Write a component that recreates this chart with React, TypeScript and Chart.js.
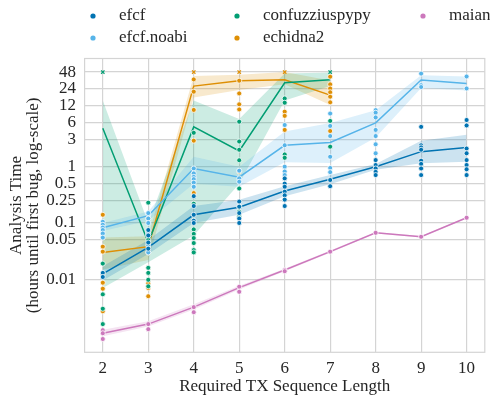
import React, { useEffect, useRef } from "react";
import { Chart, registerables } from "chart.js";

Chart.register(...registerables);

// ---------- data ----------
const xValues = [2, 3, 4, 5, 6, 7, 8, 9, 10];
const yTickValues = [48, 24, 12, 6, 3, 1, 0.5, 0.25, 0.1, 0.05, 0.01];
const TIMEOUT = 48;

// efcf
const efcfMean = [0.0125, 0.037, 0.14, 0.19, 0.37, 0.6, 1.0, 1.85, 2.2];
const efcfLow = [0.0095, 0.028, 0.1, 0.14, 0.3, 0.49, 0.88, 1.15, 1.23];
const efcfHigh = [0.017, 0.05, 0.2, 0.26, 0.45, 0.71, 1.12, 2.9, 3.7];
const efcfRuns = [
  [0.013, 0.011],
  [0.075, 0.06, 0.045, 0.035],
  [0.3, 0.2, 0.14, 0.11, 0.1],
  [0.24, 0.195, 0.15, 0.12, 0.1],
  [0.62, 0.5, 0.44, 0.36, 0.31, 0.26, 0.2],
  [0.58, 0.45],
  [1.31, 1.07, 0.93, 0.81, 0.71],
  [5.1, 2.4, 2.2, 2.0, 1.28, 1.12, 0.93, 0.71],
  [6.75, 5.4, 2.1, 1.73, 1.31, 1.07, 0.9, 0.71],
];
const efcfTimeouts: number[] = [];

// efcf.noabi
const noabiMean = [0.082, 0.135, 0.93, 0.65, 2.4, 2.7, 6.0, 34.6, 30];
const noabiLow = [0.072, 0.11, 0.5, 0.44, 1.2, 1.16, 3.3, 25, 22.5];
const noabiHigh = [0.1, 0.16, 1.5, 1.0, 4.2, 6.0, 10.1, 42, 40];
const noabiRuns = [
  [0.105, 0.093, 0.083, 0.075, 0.065, 0.055],
  [0.15, 0.12, 0.1, 0.065, 0.04, 0.03],
  [0.93, 0.76, 0.66, 0.6, 0.52, 0.44],
  [0.85, 0.62, 0.54],
  [5.5, 2.4, 1.0, 0.82, 0.71],
  [8.8, 5.3, 3.5, 1.5, 0.95, 0.8],
  [10.1, 9.1, 7.5, 4.5, 3.5, 2.5, 1.73],
  [45, 28, 26],
  [40, 24.5],
];
const noabiTimeouts: number[] = [];

// confuzziuspypy
const confuzziusMean = [4.8, 0.045, 5.1, 1.9, 31, 35];
const confuzziusLow = [0.007, 0.02, 0.06, 0.5, 15, 27];
const confuzziusHigh = [15, 0.1, 15, 7, 45, 47];
const confuzziusRuns = [
  [0.019, 0.0054, 0.003, 0.0016],
  [0.23, 0.05, 0.016, 0.013, 0.0098, 0.0075],
  [4.0, 0.22, 0.077, 0.064, 0.054, 0.044, 0.033, 0.03],
  [6.3, 2.8, 2.0, 1.3, 0.41, 0.195, 0.16, 0.13],
  [16.3, 13.7, 1.65, 1.44],
  [6.5, 2.27],
];
const confuzziusTimeouts = [2, 7];

// echidna2
const echidnaMean = [0.03, 0.038, 27, 33.5, 35, 18.7];
const echidnaLow = [0.015, 0.022, 17, 23, 29, 12.5];
const echidnaHigh = [0.055, 0.058, 41, 43, 48, 34];
const echidnaRuns = [
  [0.14, 0.038, 0.031, 0.0127, 0.0087, 0.0068, 0.0027],
  [0.12, 0.06, 0.03, 0.016, 0.0097, 0.0085, 0.007, 0.005],
  [35.5, 21.5, 10.2, 2.9, 0.34],
  [33.7, 20, 12.8, 10.4, 0.82],
  [9.5, 8, 4.5],
  [39.7, 29, 24.5, 21, 17.5, 13.9, 4.3],
];
const echidnaTimeouts = [4, 5, 6];

// maian
const maianMean = [0.0011, 0.0016, 0.0032, 0.0071, 0.0146, 0.031, 0.067, 0.057, 0.124];
const maianLow = [0.00097, 0.00145, 0.0029, 0.0066, 0.0139, 0.0296, 0.065, 0.055, 0.12];
const maianHigh = [0.00127, 0.0018, 0.0036, 0.0077, 0.0154, 0.0325, 0.069, 0.059, 0.128];
const maianRuns = [
  [0.00125, 0.0011, 0.00087],
  [0.0016, 0.0013],
  [0.0032, 0.0026],
  [0.0074, 0.006],
  [0.0146, 0.0139],
  [0.031],
  [0.067],
  [0.057],
  [0.124],
];
const maianTimeouts: number[] = [];

// ---------- styles ----------
const FONT = "'Liberation Serif', 'Times New Roman', Times, serif";
const TEXT = "#262626";
const GRID = "#d4d4d4";

const series = [
  { label: "efcf", color: "#0173b2", band: "rgba(1,115,178,0.2)", mean: efcfMean, low: efcfLow, high: efcfHigh, runs: efcfRuns, timeouts: efcfTimeouts, col: 0, row: 0 },
  { label: "efcf.noabi", color: "#56b4e9", band: "rgba(86,180,233,0.2)", mean: noabiMean, low: noabiLow, high: noabiHigh, runs: noabiRuns, timeouts: noabiTimeouts, col: 0, row: 1 },
  { label: "confuzziuspypy", color: "#029e73", band: "rgba(2,158,115,0.2)", mean: confuzziusMean, low: confuzziusLow, high: confuzziusHigh, runs: confuzziusRuns, timeouts: confuzziusTimeouts, col: 1, row: 0 },
  { label: "echidna2", color: "#de8f05", band: "rgba(222,143,5,0.2)", mean: echidnaMean, low: echidnaLow, high: echidnaHigh, runs: echidnaRuns, timeouts: echidnaTimeouts, col: 1, row: 1 },
  { label: "maian", color: "#cc78bc", band: "rgba(204,120,188,0.2)", mean: maianMean, low: maianLow, high: maianHigh, runs: maianRuns, timeouts: maianTimeouts, col: 2, row: 0 },
];

const legendColX = [93, 237, 423];
const legendRowY = [16, 38];

function linePoints(vals: number[]) {
  return vals.map((v, i) => ({ x: xValues[i], y: v }));
}
function runPoints(runs: number[][]) {
  return runs.flatMap((vals, i) => vals.map((v) => ({ x: xValues[i], y: v })));
}

const frameAndLegend = {
  id: "frameAndLegend",
  beforeDatasetsDraw(chart: any) {
    const { ctx, chartArea: a } = chart;
    ctx.save();
    ctx.strokeStyle = GRID;
    ctx.lineWidth = 1.2;
    ctx.strokeRect(a.left, a.top, a.right - a.left, a.bottom - a.top);
    ctx.restore();
  },
  afterDraw(chart: any) {
    const { ctx } = chart;
    ctx.save();
    ctx.font = `17px ${FONT}`;
    ctx.textBaseline = "middle";
    ctx.textAlign = "left";
    series.forEach((s) => {
      const cx = legendColX[s.col];
      const cy = legendRowY[s.row];
      ctx.beginPath();
      ctx.arc(cx, cy, 2.6, 0, Math.PI * 2);
      ctx.fillStyle = s.color;
      ctx.fill();
      ctx.fillStyle = TEXT;
      ctx.fillText(s.label, cx + 26, cy);
    });
    ctx.restore();
  },
};

export default function App() {
  const ref = useRef<HTMLCanvasElement>(null);

  useEffect(() => {
    if (!ref.current) return;
    const datasets: any[] = [];
    // dots on top
    series.forEach((s) => {
      datasets.push({
        type: "scatter",
        label: s.label + " runs",
        data: runPoints(s.runs),
        backgroundColor: s.color,
        borderColor: "#ffffff",
        borderWidth: 0.8,
        pointRadius: 2.5,
        order: 0,
      });
      if (s.timeouts.length) {
        datasets.push({
          type: "scatter",
          label: s.label + " timeouts",
          data: s.timeouts.map((x) => ({ x, y: TIMEOUT })),
          pointStyle: "crossRot",
          borderColor: s.color,
          backgroundColor: s.color,
          borderWidth: 1.2,
          pointRadius: 2.4,
          order: 0,
        });
      }
    });
    series.forEach((s) => {
      datasets.push({
        type: "line",
        label: s.label,
        data: linePoints(s.mean),
        borderColor: s.color,
        borderWidth: 1.5,
        pointRadius: 0,
        tension: 0,
        fill: false,
        order: 1,
      });
    });
    series.forEach((s) => {
      datasets.push({
        type: "line",
        label: s.label + " low",
        data: linePoints(s.low),
        borderWidth: 0,
        borderColor: "rgba(0,0,0,0)",
        pointRadius: 0,
        tension: 0,
        fill: false,
        order: 2,
      });
      datasets.push({
        type: "line",
        label: s.label + " high",
        data: linePoints(s.high),
        borderWidth: 0,
        borderColor: "rgba(0,0,0,0)",
        backgroundColor: s.band,
        pointRadius: 0,
        tension: 0,
        fill: "-1",
        order: 2,
      });
    });

    const chart = new Chart(ref.current, {
      type: "line",
      data: { datasets },
      plugins: [frameAndLegend],
      options: {
        animation: false,
        responsive: false,
        devicePixelRatio: 1,
        layout: { padding: { top: 58.5, right: 1.6, left: 0, bottom: 0 } },
        plugins: { legend: { display: false }, tooltip: { enabled: false } },
        scales: {
          x: {
            type: "linear",
            min: 1.6,
            max: 10.4,
            afterBuildTicks: (scale: any) => {
              scale.ticks = xValues.map((v) => ({ value: v }));
            },
            afterFit: (scale: any) => {
              scale.height = 46.7;
            },
            grid: { color: GRID, lineWidth: 1.2, drawTicks: false },
            border: { display: false },
            ticks: {
              autoSkip: false,
              maxRotation: 0,
              padding: 6,
              color: TEXT,
              font: { family: FONT, size: 17 },
              callback: (v: any) => String(v),
            },
            title: {
              display: true,
              text: "Required TX Sequence Length",
              color: TEXT,
              font: { family: FONT, size: 17, lineHeight: 1 },
              padding: { top: 0, bottom: 4 },
            },
          },
          y: {
            type: "logarithmic",
            min: 0.000505,
            max: 83.5,
            afterBuildTicks: (scale: any) => {
              scale.ticks = yTickValues.map((v) => ({ value: v }));
            },
            afterFit: (scale: any) => {
              scale.width = 84.6;
            },
            grid: { color: GRID, lineWidth: 1.2, drawTicks: false },
            border: { display: false },
            ticks: {
              autoSkip: false,
              padding: 8.5,
              color: TEXT,
              font: { family: FONT, size: 17 },
              callback: (v: any) => String(v),
            },
            title: {
              display: true,
              text: ["Analysis Time", "(hours until first bug, log-scale)"],
              color: TEXT,
              font: { family: FONT, size: 17, lineHeight: 1 },
              padding: { top: 8.5, bottom: 0 },
            },
          },
        },
      },
    });
    return () => chart.destroy();
  }, []);

  return (
    <div style={{ position: "fixed", left: 0, top: 0, width: 490, height: 399, background: "#fff" }}>
      <canvas ref={ref} width={490} height={399} style={{ display: "block" }} />
    </div>
  );
}
